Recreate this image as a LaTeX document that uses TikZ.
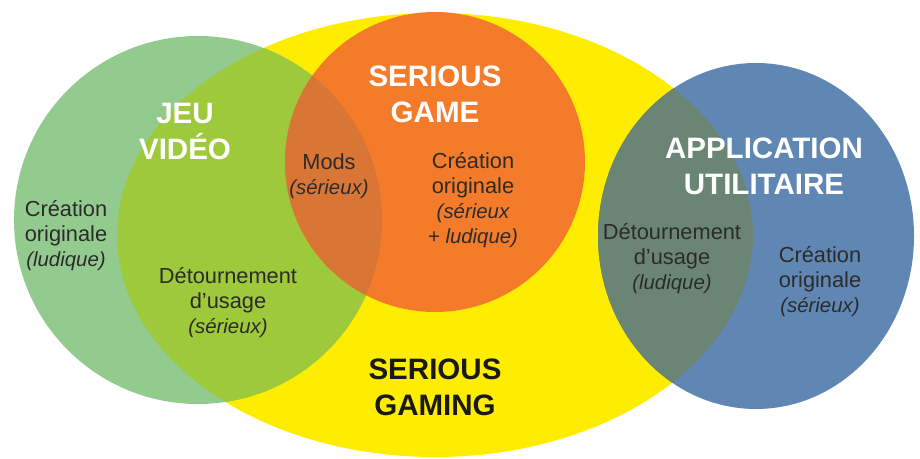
\documentclass[tikz,border=0pt]{standalone}
\usepackage{fontspec}
\setmainfont{Liberation Sans}
\usepackage{xcolor}
\usepackage{tikz}
\usetikzlibrary{positioning}
\definecolor{sgYellow}{HTML}{FFED00}
\definecolor{sgGreen}{HTML}{93CB8F}
\definecolor{sgLime}{HTML}{9DC93B}
\definecolor{sgOrange}{HTML}{F47B2A}
\definecolor{sgRust}{HTML}{D97636}
\definecolor{sgBlue}{HTML}{6087B3}
\definecolor{sgSlate}{HTML}{6B8574}
\definecolor{sgInk}{HTML}{2B2B2B}
\tikzset{
  sg diagram/.style={text=sgInk, x=0.025cm, y=0.025cm},
  sg title/.style={font=\fontsize{21}{25.6}\selectfont\bfseries, text=white,
    align=center, inner sep=0pt},
  sg dark title/.style={sg title, text=black!90},
  sg label/.style={font=\fontsize{15.5}{17.8}\selectfont, text=sgInk,
    align=center, inner sep=0pt}
}
\newcommand{\sgnote}[1]{{\itshape\fontsize{14.5}{17.8}\selectfont #1}}

\begin{document}
\begin{tikzpicture}[sg diagram]
\useasboundingbox (0,0) rectangle (920,459);
% the four sets
\fill[sgYellow] (435,224) ellipse [x radius=318, y radius=222];
\fill[sgGreen] (198,239) circle [radius=184];
\begin{scope}
  \clip (435,224) ellipse [x radius=318, y radius=222];
  \fill[sgLime] (198,239) circle [radius=184];
\end{scope}
\fill[sgOrange] (435,297) circle [radius=150];
\begin{scope}
  \clip (198,239) circle [radius=184];
  \fill[sgRust] (435,297) circle [radius=150];
\end{scope}
\fill[sgBlue] (756,223) ellipse [x radius=158, y radius=173];
\begin{scope}
  \clip (435,224) ellipse [x radius=318, y radius=222];
  \fill[sgSlate] (756,223) ellipse [x radius=158, y radius=173];
\end{scope}
% set names
\node[sg title] (jeu) at (185,328) {JEU\\VIDÉO};
\node[sg title] (game) at (435,365) {SERIOUS\\GAME};
\node[sg title] (appli) at (764,293) {APPLICATION\\UTILITAIRE};
\node[sg dark title] (gaming) at (435,72) {SERIOUS\\GAMING};
% region labels
\node[sg label] (jeuOrig) at (66,223) {Création\\originale\\\sgnote{(ludique)}};
\node[sg label] (jeuDet) at (228,156) {Détournement\\d’usage\\\sgnote{(sérieux)}};
\node[sg label] (mods) at (329,283) {Mods\\\sgnote{(sérieux)}};
\node[sg label] (gameOrig) at (473,259) {Création\\originale\\\sgnote{(sérieux}\\\sgnote{+ ludique)}};
\node[sg label] (appliDet) at (672,200) {Détournement\\d’usage\\\sgnote{(ludique)}};
\node[sg label] (appliOrig) at (820,177) {Création\\originale\\\sgnote{(sérieux)}};
\end{tikzpicture}
\end{document}
